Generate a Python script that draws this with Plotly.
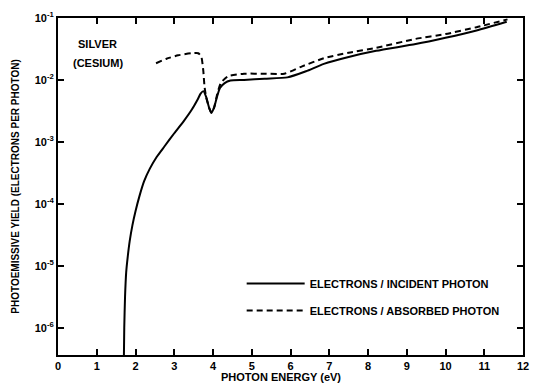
import plotly.graph_objects as go

# Photoemissive yield of cesiated silver
energy_incident = [1.70, 1.71, 1.73, 1.76, 1.80, 1.85, 1.92, 2.00, 2.10, 2.22, 2.37, 2.55,
                   2.75, 3.00, 3.25, 3.45, 3.60, 3.68, 3.75, 3.82, 3.90, 3.96, 4.03, 4.10,
                   4.18, 4.30, 4.45, 4.80, 5.33, 5.92, 6.40, 6.86, 7.50, 8.21, 9.23, 10.0,
                   10.8, 11.58]
yield_incident = [3.16e-7, 1.0e-6, 3.16e-6, 7.9e-6, 1.41e-5, 2.5e-5, 4.5e-5, 7.6e-5, 1.32e-4,
                  2.3e-4, 3.7e-4, 5.75e-4, 8.5e-4, 1.38e-3, 2.19e-3, 3.3e-3, 4.8e-3, 6.0e-3,
                  6.6e-3, 5.4e-3, 3.55e-3, 2.95e-3, 3.6e-3, 5.25e-3, 7.4e-3, 8.9e-3, 9.8e-3,
                  1.0e-2, 1.05e-2, 1.1e-2, 1.38e-2, 1.82e-2, 2.35e-2, 2.95e-2, 3.8e-2,
                  4.8e-2, 6.3e-2, 8.7e-2]

energy_absorbed = [2.53, 2.80, 3.10, 3.45, 3.62, 3.70, 3.75, 3.78, 3.82, 3.90, 3.96, 4.03,
                   4.10, 4.20, 4.39, 4.80, 5.33, 5.84, 6.30, 6.86, 7.50, 8.21, 9.23, 10.0,
                   10.8, 11.6]
yield_absorbed = [1.86e-2, 2.2e-2, 2.5e-2, 2.7e-2, 2.7e-2, 2.35e-2, 1.4e-2, 7.9e-3, 5.4e-3,
                  3.55e-3, 2.95e-3, 3.6e-3, 5.6e-3, 8.9e-3, 1.15e-2, 1.26e-2, 1.26e-2,
                  1.26e-2, 1.66e-2, 2.24e-2, 2.75e-2, 3.3e-2, 4.6e-2, 5.5e-2, 7.1e-2,
                  9.5e-2]

x_ticks = list(range(0, 13))
y_ticks = [1e-6, 1e-5, 1e-4, 1e-3, 1e-2, 1e-1]
y_tick_text = ["10<sup>-6</sup>", "10<sup>-5</sup>", "10<sup>-4</sup>",
               "10<sup>-3</sup>", "10<sup>-2</sup>", "10<sup>-1</sup>"]

FONT = "Liberation Sans"
INK = "black"
bold = dict(family=FONT, size=11, color=INK, weight="bold")

fig = go.Figure()
fig.add_trace(go.Scatter(
    x=energy_incident, y=yield_incident, mode="lines",
    name="ELECTRONS / INCIDENT PHOTON", legendgroup="a",
    line=dict(color=INK, width=2, shape="spline", smoothing=0.6),
))
fig.add_trace(go.Scatter(
    x=energy_absorbed, y=yield_absorbed, mode="lines",
    name="ELECTRONS / ABSORBED PHOTON", legendgroup="b",
    line=dict(color=INK, width=2, dash="6px,4px", shape="spline", smoothing=0.5),
))

axis_common = dict(
    showline=True, linecolor=INK, linewidth=2, mirror="ticks",
    ticks="inside", tickcolor=INK, tickwidth=2, ticklen=6,
    showgrid=False, zeroline=False, tickfont=bold,
)

fig.update_xaxes(range=[0, 12], tickvals=x_ticks, **axis_common)
fig.update_yaxes(type="log", range=[-6.44, -1], tickvals=y_ticks, ticktext=y_tick_text,
                 **axis_common)

fig.add_annotation(text="SILVER", xref="paper", yref="paper",
                   x=0.085, y=0.923, xanchor="center", yanchor="middle",
                   showarrow=False, font=bold)
fig.add_annotation(text="(CESIUM)", xref="paper", yref="paper",
                   x=0.085, y=0.867, xanchor="center", yanchor="middle",
                   showarrow=False, font=bold)
fig.add_annotation(text="PHOTON ENERGY (eV)", xref="paper", yref="paper",
                   x=0.48, y=-0.065, xanchor="center", yanchor="middle", showarrow=False,
                   font=bold)
fig.add_annotation(text="PHOTOEMISSIVE YIELD (ELECTRONS PER PHOTON)", xref="paper",
                   yref="paper", x=-0.092, y=0.5, textangle=-90, xanchor="center",
                   yanchor="middle", showarrow=False,
                   font=dict(family=FONT, size=10, color=INK, weight="bold"))

fig.update_layout(
    width=539, height=385,
    margin=dict(l=58, r=10, t=17, b=30),
    paper_bgcolor="white", plot_bgcolor="white",
    showlegend=True,
    legend=dict(x=0.395, y=0.255, xanchor="left", yanchor="top",
                bgcolor="rgba(0,0,0,0)", traceorder="grouped", tracegroupgap=8,
                itemwidth=58, font=bold),
)

fig.write_html("out.html")
